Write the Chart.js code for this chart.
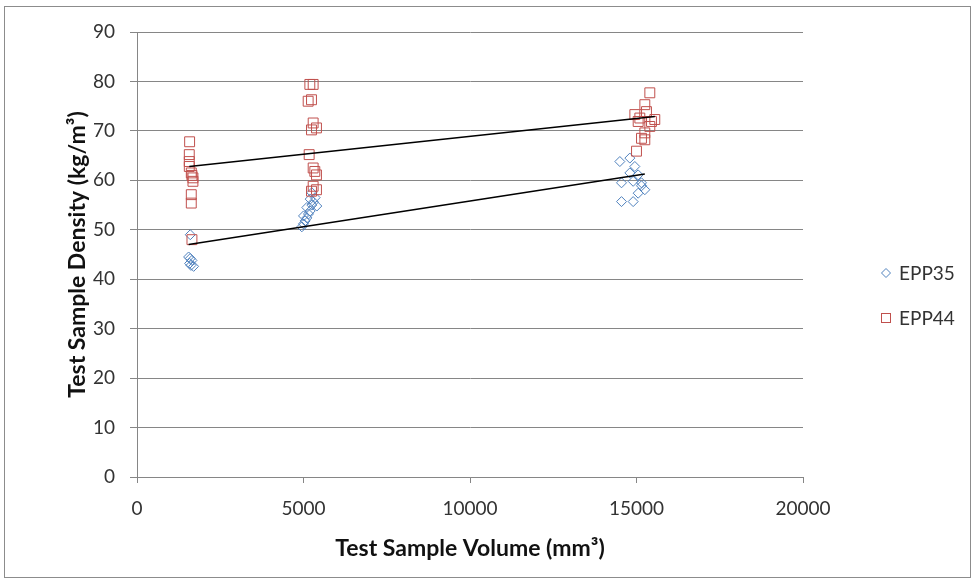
<!DOCTYPE html>
<html>
<head>
<meta charset="utf-8">
<script src="https://cdn.jsdelivr.net/npm/chart.js@4.4.1/dist/chart.umd.min.js"></script>
<style>
  body { margin: 0; background: #fff; }
  #frame { position: absolute; left: 4px; top: 6px; width: 965px; height: 570px; border: 1px solid #8c8c8c; }
  #wrap { position: absolute; left: 0; top: 0; width: 974px; height: 581px; }
</style>
</head>
<body>
<div id="frame"></div>
<div id="wrap"><canvas id="myChart"></canvas></div>
<script>
// series names
const seriesNames = ["EPP35", "EPP44"];

// EPP35 samples: volume (mm3) and density (kg/m3)
const epp35Volume = [1550, 1600, 1650, 1580, 1620, 1700, 1600,
  4950, 5000, 5050, 5100, 5000, 5150, 5200, 5100, 5250, 5300, 5200, 5350, 5400, 5250,
  14500, 14800, 14950, 14800, 15050, 14550, 14900, 15150, 15250, 15050, 15150, 14550, 14900];
const epp35Density = [44.5, 44.2, 43.8, 43.2, 42.8, 42.6, 49,
  50.6, 51.2, 51.8, 52.4, 52.8, 53.2, 53.8, 54.5, 55, 55.6, 56.2, 56.5, 54.8, 57.5,
  63.8, 64.5, 62.8, 61.5, 61.1, 59.5, 59.8, 59.5, 58.1, 57.4, 58.9, 55.7, 55.7];

// EPP44 samples
const epp44Volume = [1580, 1570, 1570, 1570, 1630, 1650, 1680, 1680, 1630, 1630, 1650,
  5190, 5290, 5140, 5240, 5290, 5390, 5240, 5170, 5290, 5340, 5390, 5290, 5390, 5240,
  15400, 15250, 15300, 14950, 15100, 15050, 15450, 15550, 15400, 15250, 15250, 15150, 15000];
const epp44Density = [67.8, 65.2, 63.8, 62.8, 61.5, 61, 60.5, 59.8, 57.1, 55.4, 48,
  79.4, 79.4, 76, 76.3, 71.6, 70.6, 70.2, 65.2, 62.5, 61.8, 61.1, 58.8, 58.1, 57.8,
  77.7, 75.3, 73.9, 73.3, 72.6, 71.9, 71.9, 72.3, 70.9, 69.6, 68.2, 68.5, 65.9];

// linear trend lines (end points)
const trend35Volume = [1550, 15250];
const trend35Density = [47.0, 61.3];
const trend44Volume = [1570, 15550];
const trend44Density = [62.8, 72.9];

// axis ticks
const xTicks = [0, 5000, 10000, 15000, 20000];
const yTicks = [0, 10, 20, 30, 40, 50, 60, 70, 80, 90];

const blue = "#4f81bd";
const red = "#c0504d";
const gridGrey = "#868686";
const font = "Lato, 'Open Sans', sans-serif";

function toPoints(xs, ys) {
  return xs.map((x, i) => ({x: x, y: ys[i]}));
}

// legend drawn at the right of the plot
const sideLegend = {
  id: "sideLegend",
  afterDraw(chart) {
    const ctx = chart.ctx;
    const area = chart.chartArea;
    const cx = area.right + 83;
    const mid = (area.top + area.bottom) / 2;
    const rows = [mid + 18.5, mid + 63.5];
    ctx.save();
    ctx.lineWidth = 1;
    // diamond
    ctx.strokeStyle = blue;
    ctx.beginPath();
    ctx.moveTo(cx, rows[0] - 4.5);
    ctx.lineTo(cx + 4.5, rows[0]);
    ctx.lineTo(cx, rows[0] + 4.5);
    ctx.lineTo(cx - 4.5, rows[0]);
    ctx.closePath();
    ctx.stroke();
    // square
    ctx.strokeStyle = red;
    ctx.strokeRect(cx - 4.5, rows[1] - 4.5, 9, 9);
    ctx.fillStyle = "#333";
    ctx.font = "19px " + font;
    ctx.textBaseline = "middle";
    ctx.fillText(seriesNames[0], cx + 13, rows[0] + 1);
    ctx.fillText(seriesNames[1], cx + 13, rows[1] + 1);
    ctx.restore();
  }
};

const ctx = document.getElementById("myChart").getContext("2d");
const chart = new Chart(ctx, {
  type: "scatter",
  data: {
    datasets: [
      {
        label: seriesNames[0],
        data: toPoints(epp35Volume, epp35Density),
        pointStyle: "rectRot",
        pointRadius: 5,
        pointBorderWidth: 1,
        borderColor: blue,
        backgroundColor: "rgba(0,0,0,0)",
        order: 2,
      },
      {
        label: seriesNames[1],
        data: toPoints(epp44Volume, epp44Density),
        pointStyle: "rect",
        pointRadius: 7,
        pointBorderWidth: 1,
        borderColor: red,
        backgroundColor: "rgba(0,0,0,0)",
        order: 1,
      },
      {
        label: "trend35",
        data: toPoints(trend35Volume, trend35Density),
        showLine: true,
        pointRadius: 0,
        borderColor: "#000",
        borderWidth: 1.5,
        order: 0,
      },
      {
        label: "trend44",
        data: toPoints(trend44Volume, trend44Density),
        showLine: true,
        pointRadius: 0,
        borderColor: "#000",
        borderWidth: 1.5,
        order: 0,
      },
    ],
  },
  options: {
    responsive: true,
    maintainAspectRatio: false,
    animation: false,
    layout: {padding: {left: 64, top: 32, right: 171, bottom: 19}},
    plugins: {
      legend: {display: false},
      tooltip: {enabled: false},
    },
    scales: {
      x: {
        type: "linear",
        min: 0,
        max: 20000,
        afterBuildTicks: (axis) => { axis.ticks = xTicks.map((v) => ({value: v})); },
        afterFit: (axis) => { axis.height = 85; },
        border: {color: gridGrey, width: 1},
        grid: {drawOnChartArea: false, drawTicks: true, tickLength: 6, color: gridGrey},
        ticks: {
          color: "#333",
          font: {family: font, size: 19},
          padding: 14,
          maxRotation: 0,
          callback: (v) => String(v),
        },
        title: {
          display: true,
          text: "Test Sample Volume (mm³)",
          color: "#111",
          font: {family: font, size: 23, weight: "bold"},
          padding: 0,
        },
      },
      y: {
        type: "linear",
        min: 0,
        max: 90,
        afterBuildTicks: (axis) => { axis.ticks = yTicks.map((v) => ({value: v})); },
        afterFit: (axis) => { axis.width = 73; },
        border: {color: gridGrey, width: 1},
        grid: {color: gridGrey, tickLength: 7},
        ticks: {color: "#333", font: {family: font, size: 19}, padding: 15},
        title: {
          display: true,
          text: "Test Sample Density (kg/m³)",
          color: "#111",
          font: {family: font, size: 23, weight: "bold"},
          padding: 0,
        },
      },
    },
  },
  plugins: [sideLegend],
});
</script>
</body>
</html>
